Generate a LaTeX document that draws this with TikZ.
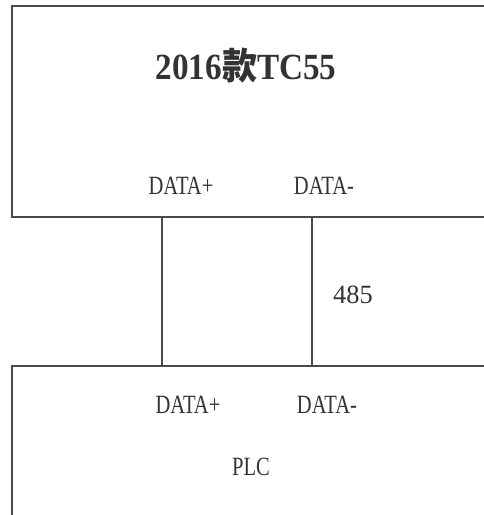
\documentclass[tikz,border=0pt]{standalone}
\usepackage{fontspec}
\setmainfont{Liberation Serif}
\newfontfamily\labelfont[FakeStretch=0.78]{Liberation Serif}
\newfontfamily\titlefont[FakeStretch=0.9]{Liberation Serif}
\newfontfamily\cjk[FakeStretch=0.95]{Noto Sans CJK SC}
\definecolor{ink}{HTML}{4A4A4A}
\definecolor{txt}{HTML}{333333}
\tikzset{
	box/.style={draw=ink,line width=1pt},
	wire/.style={draw=ink,line width=0.9pt},
	pin/.style={inner sep=0pt,text=txt,font=\labelfont\fontsize{15}{17}\selectfont}
}

\begin{document}
\begin{tikzpicture}[x=0.02cm,y=-0.02cm]
	   \useasboundingbox (0,0) rectangle (484,515);
	   \clip (0,0) rectangle (484,515);
	   % the two units
	   \draw [box] (12,6) rectangle (500,217);
	   \draw [box] (12,366) rectangle (500,530);
	   \node (tc) at (246,66) [inner sep=0pt,text=txt,
	     font=\titlefont\bfseries\fontsize{21}{24}\selectfont]
	     {2016{\cjk\bfseries 款}TC55};
	   \node (plc) at (251,467) [pin] {PLC};
	   \node (bus) at (353,295) [pin,font=\fontsize{15}{17}\selectfont] {485};
	   % terminals
	   \node (tcp) at (181,186) [pin] {DATA+};
	   \node (tcm) at (324,186) [pin] {DATA-};
	   \node (plcp) at (188,405) [pin] {DATA+};
	   \node (plcm) at (327,405) [pin] {DATA-};
	   % wires between the units
	   \foreach \n/\x in {a/162,b/312} {
	     \coordinate (top\n) at (\x,217);
	     \coordinate (bot\n) at (\x,366);
	     \draw [wire] (top\n) -- (bot\n);
	   }
\end{tikzpicture}
\end{document}
